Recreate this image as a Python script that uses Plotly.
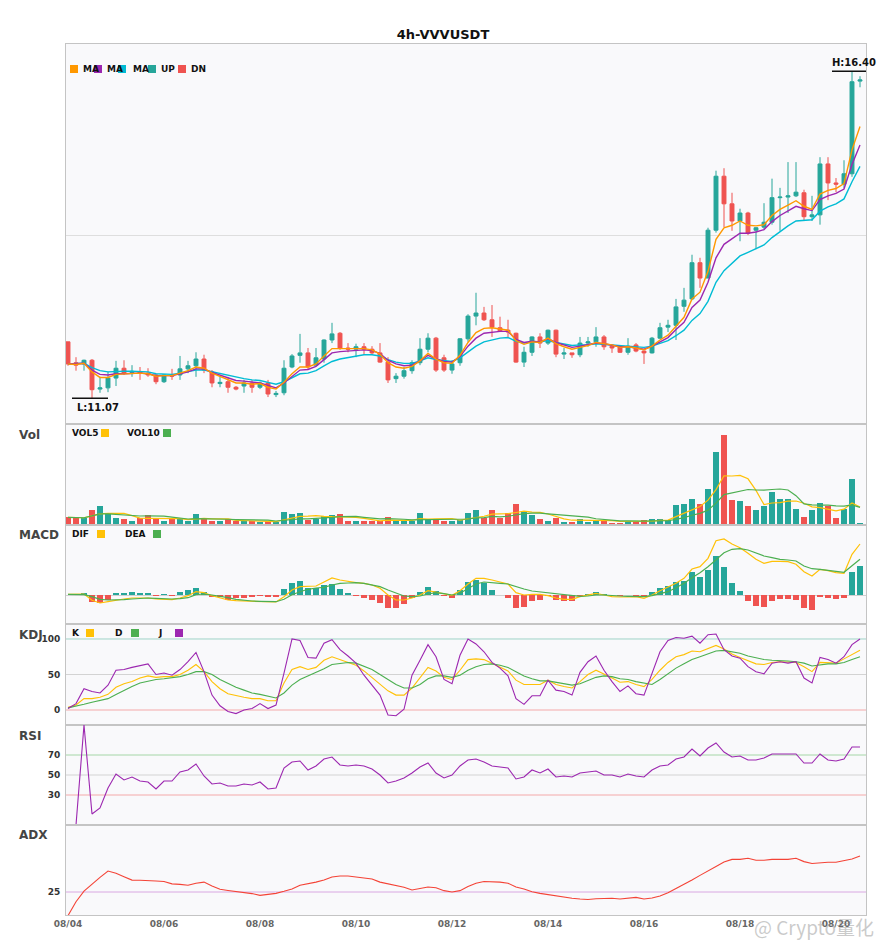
import pandas as pd
import plotly.graph_objects as go
from plotly.subplots import make_subplots

# 4h candles, 2025-08-04 00:00 onwards
times = pd.date_range("2025-08-04 00:00", periods=100, freq="4h")

open_ = [11.99, 11.65, 11.63, 11.69, 11.22, 11.24, 11.40, 11.56, 11.49, 11.50,
         11.48, 11.45, 11.34, 11.45, 11.45, 11.55, 11.60, 11.71, 11.50, 11.31,
         11.34, 11.25, 11.27, 11.32, 11.25, 11.32, 11.13, 11.16, 11.58, 11.77,
         11.81, 11.61, 11.71, 12.02, 12.13, 11.89, 11.87, 11.91, 11.87, 11.81,
         11.66, 11.39, 11.43, 11.52, 11.65, 11.87, 12.05, 11.73, 11.53, 11.65,
         12.04, 12.41, 12.46, 12.35, 12.22, 12.18, 12.13, 11.66, 11.82, 12.07,
         11.97, 12.18, 11.79, 11.81, 11.78, 11.97, 11.99, 12.07, 11.92, 11.91,
         11.82, 11.94, 11.84, 11.81, 12.05, 12.23, 12.26, 12.57, 12.69, 13.28,
         13.03, 13.81, 14.69, 14.24, 13.96, 14.09, 13.81, 13.86, 13.94, 14.34,
         14.35, 14.37, 14.42, 14.03, 14.06, 14.89, 14.58, 14.56, 14.73, 16.24]
high = [11.99, 11.74, 11.70, 11.71, 11.42, 11.50, 11.68, 11.69, 11.61, 11.58,
        11.56, 11.47, 11.46, 11.55, 11.76, 11.68, 11.82, 11.78, 11.53, 11.42,
        11.42, 11.27, 11.37, 11.37, 11.34, 11.37, 11.19, 11.69, 11.79, 12.12,
        11.89, 11.89, 12.03, 12.30, 12.15, 11.97, 11.96, 11.97, 11.92, 11.97,
        11.74, 11.48, 11.58, 11.69, 12.05, 12.13, 12.07, 11.78, 11.69, 12.05,
        12.44, 12.79, 12.56, 12.59, 12.40, 12.35, 12.14, 11.91, 12.08, 12.13,
        12.19, 12.19, 11.89, 11.81, 12.07, 12.07, 12.23, 12.10, 11.93, 11.93,
        12.05, 11.97, 11.85, 12.07, 12.30, 12.35, 12.69, 12.87, 13.41, 13.36,
        13.85, 14.78, 14.82, 14.42, 14.16, 14.11, 13.86, 14.25, 14.65, 14.50,
        14.92, 14.92, 14.47, 14.37, 15.00, 15.00, 14.66, 14.95, 16.40, 16.32]
low = [11.60, 11.52, 11.52, 11.07, 11.16, 11.17, 11.27, 11.45, 11.42, 11.37,
       11.42, 11.30, 11.32, 11.37, 11.37, 11.48, 11.42, 11.48, 11.25, 11.25,
       11.16, 11.20, 11.16, 11.16, 11.22, 11.09, 11.09, 11.12, 11.56, 11.65,
       11.53, 11.61, 11.65, 11.97, 11.86, 11.82, 11.74, 11.78, 11.78, 11.65,
       11.32, 11.32, 11.39, 11.47, 11.61, 11.82, 11.50, 11.50, 11.47, 11.60,
       11.99, 12.26, 12.33, 12.07, 12.15, 12.07, 11.65, 11.58, 11.76, 11.89,
       11.94, 11.74, 11.71, 11.73, 11.74, 11.91, 11.91, 11.86, 11.81, 11.81,
       11.78, 11.82, 11.63, 11.80, 12.04, 12.15, 12.02, 12.48, 12.67, 12.87,
       13.03, 13.77, 13.86, 13.80, 13.63, 13.73, 13.50, 13.83, 13.90, 13.80,
       14.09, 14.35, 13.96, 13.96, 13.90, 14.30, 14.43, 14.50, 14.68, 16.14]
close = [11.63, 11.61, 11.69, 11.21, 11.24, 11.40, 11.56, 11.48, 11.51, 11.48,
         11.45, 11.34, 11.45, 11.43, 11.55, 11.60, 11.71, 11.53, 11.32, 11.33,
         11.25, 11.22, 11.32, 11.25, 11.32, 11.14, 11.15, 11.56, 11.76, 11.81,
         11.58, 11.73, 12.02, 12.12, 11.89, 11.87, 11.91, 11.87, 11.81, 11.66,
         11.37, 11.43, 11.52, 11.65, 11.87, 12.05, 11.53, 11.53, 11.63, 12.04,
         12.41, 12.46, 12.35, 12.23, 12.17, 12.15, 11.66, 11.82, 12.07, 11.97,
         12.18, 11.79, 11.81, 11.78, 11.97, 11.99, 12.07, 11.91, 11.89, 11.82,
         11.92, 11.84, 11.81, 12.05, 12.22, 12.26, 12.56, 12.67, 13.28, 13.03,
         13.81, 14.69, 14.24, 13.96, 14.09, 13.76, 13.85, 13.94, 14.34, 14.35,
         14.37, 14.43, 14.03, 14.06, 14.89, 14.58, 14.56, 14.73, 16.23, 16.26]

ma_fast = [11.63, 11.62, 11.64, 11.50, 11.41, 11.41, 11.46, 11.47, 11.48, 11.48,
           11.47, 11.43, 11.44, 11.44, 11.48, 11.52, 11.58, 11.56, 11.48, 11.43,
           11.37, 11.32, 11.32, 11.30, 11.31, 11.25, 11.22, 11.33, 11.47, 11.58,
           11.58, 11.63, 11.76, 11.88, 11.88, 11.88, 11.89, 11.88, 11.86, 11.79,
           11.65, 11.58, 11.56, 11.59, 11.68, 11.80, 11.71, 11.65, 11.64, 11.77,
           11.98, 12.14, 12.21, 12.22, 12.20, 12.18, 12.01, 11.95, 11.99, 11.98,
           12.05, 11.96, 11.91, 11.87, 11.90, 11.93, 11.98, 11.96, 11.94, 11.90,
           11.91, 11.89, 11.86, 11.92, 12.02, 12.10, 12.25, 12.39, 12.69, 12.80,
           13.14, 13.66, 13.85, 13.89, 13.96, 13.89, 13.88, 13.90, 14.05, 14.15,
           14.22, 14.29, 14.20, 14.15, 14.40, 14.46, 14.49, 14.57, 15.12, 15.50]
ma_mid = [11.63, 11.63, 11.64, 11.53, 11.46, 11.45, 11.47, 11.47, 11.48, 11.48,
          11.47, 11.44, 11.44, 11.44, 11.47, 11.50, 11.55, 11.55, 11.49, 11.45,
          11.40, 11.36, 11.35, 11.33, 11.32, 11.28, 11.24, 11.32, 11.43, 11.53,
          11.54, 11.59, 11.70, 11.81, 11.83, 11.84, 11.86, 11.86, 11.85, 11.80,
          11.69, 11.63, 11.60, 11.61, 11.68, 11.77, 11.71, 11.67, 11.66, 11.75,
          11.92, 12.05, 12.13, 12.15, 12.16, 12.16, 12.03, 11.98, 12.00, 11.99,
          12.04, 11.98, 11.94, 11.90, 11.92, 11.94, 11.97, 11.96, 11.94, 11.91,
          11.91, 11.89, 11.87, 11.92, 11.99, 12.06, 12.19, 12.31, 12.55, 12.67,
          12.96, 13.36, 13.58, 13.67, 13.76, 13.76, 13.78, 13.82, 13.95, 14.05,
          14.13, 14.20, 14.16, 14.13, 14.31, 14.37, 14.41, 14.48, 14.88, 15.20]
ma_slow = [11.63, 11.63, 11.64, 11.57, 11.52, 11.50, 11.51, 11.51, 11.51, 11.50,
           11.50, 11.47, 11.47, 11.46, 11.48, 11.50, 11.53, 11.53, 11.50, 11.47,
           11.44, 11.41, 11.39, 11.37, 11.36, 11.33, 11.30, 11.34, 11.41, 11.47,
           11.48, 11.52, 11.60, 11.67, 11.71, 11.73, 11.76, 11.78, 11.78, 11.76,
           11.70, 11.66, 11.64, 11.64, 11.68, 11.73, 11.70, 11.68, 11.67, 11.73,
           11.83, 11.92, 11.99, 12.02, 12.05, 12.06, 12.00, 11.97, 11.99, 11.99,
           12.01, 11.98, 11.96, 11.93, 11.94, 11.94, 11.96, 11.95, 11.94, 11.93,
           11.92, 11.91, 11.90, 11.92, 11.96, 12.01, 12.09, 12.18, 12.34, 12.45,
           12.65, 12.96, 13.15, 13.27, 13.39, 13.45, 13.51, 13.57, 13.69, 13.79,
           13.88, 13.96, 13.97, 13.98, 14.12, 14.19, 14.24, 14.32, 14.60, 14.85]

volume = [77, 70, 70, 150, 190, 107, 70, 60, 40, 67,
          97, 63, 40, 63, 57, 43, 110, 57, 43, 40,
          57, 37, 37, 37, 27, 40, 27, 130, 110, 120,
          53, 60, 90, 100, 110, 40, 40, 43, 43, 40,
          80, 40, 37, 37, 120, 57, 57, 37, 43, 53,
          120, 150, 73, 150, 73, 120, 210, 140, 100, 60,
          40, 73, 33, 33, 60, 33, 53, 50, 20, 20,
          37, 27, 50, 60, 60, 47, 200, 210, 260, 210,
          360, 730, 900, 250, 240, 190, 150, 190, 330, 260,
          260, 160, 80, 150, 220, 190, 70, 160, 460, 17]
vol5 = [77, 73.5, 72.3, 91.8, 111.4, 117.4, 117.4, 115.4, 93.4, 68.8,
        66.8, 65.4, 61.4, 66, 64, 53.2, 62.6, 66, 62, 58.6,
        61.4, 46.8, 42.8, 41.6, 39, 35.6, 33.6, 52.2, 66.8, 85.4,
        88, 94.6, 86.6, 84.6, 82.6, 80, 76, 66.6, 55.2, 41.2,
        49.2, 49.2, 48, 46.8, 62.8, 58.2, 61.6, 61.6, 62.8, 49.4,
        62, 80.6, 87.8, 109.2, 113.2, 113.2, 125.2, 138.6, 128.6, 126,
        110, 82.6, 61.2, 47.8, 47.8, 46.4, 42.4, 45.8, 43.2, 35.2,
        36, 30.8, 30.8, 38.8, 46.8, 48.8, 83.4, 115.4, 155.4, 185.4,
        248, 354, 492, 490, 496, 462, 346, 204, 220, 224,
        238, 240, 218, 182, 174, 160, 142, 158, 220, 179.4]
vol10 = [77, 73.5, 72.3, 91.8, 111.4, 110.7, 104.9, 99.3, 92.7, 90.1,
         92.1, 91.4, 88.4, 79.7, 66.4, 60, 64, 63.7, 64, 61.3,
         57.3, 54.7, 54.4, 51.8, 48.8, 48.5, 40.2, 47.5, 54.2, 62.2,
         61.8, 64.1, 69.4, 75.7, 84, 84, 85.3, 76.6, 69.9, 61.9,
         64.6, 62.6, 57.3, 51, 52, 53.7, 55.4, 54.8, 54.8, 56.1,
         60.1, 71.1, 74.7, 86, 81.3, 87.6, 102.9, 113.2, 118.9, 119.6,
         111.6, 103.9, 99.9, 88.2, 86.9, 78.2, 62.5, 53.5, 45.5, 41.5,
         41.2, 36.6, 38.3, 41, 41, 42.4, 57.1, 73.1, 97.1, 116.1,
         148.4, 218.7, 303.7, 322.7, 340.7, 355, 350, 348, 355, 360,
         350, 293, 211, 201, 199, 199, 191, 188, 201, 176.7]

dif = [0.007, 0.007, 0.01, -0.053, -0.08, -0.067, -0.05, -0.04, -0.03, -0.027,
       -0.03, -0.04, -0.047, -0.047, -0.03, -0.007, 0.033, 0.023, -0.007, -0.027,
       -0.05, -0.057, -0.06, -0.06, -0.06, -0.067, -0.07, -0.017, 0.05, 0.083,
       0.09, 0.09, 0.13, 0.17, 0.15, 0.133, 0.123, 0.117, 0.10, 0.067,
       0.0, -0.05, -0.05, -0.03, 0.0, 0.043, 0.03, 0.013, -0.003, 0.043,
       0.11, 0.167, 0.167, 0.15, 0.133, 0.11, 0.023, 0.0, 0.007, 0.007,
       -0.007, -0.03, -0.043, -0.043, -0.017, 0.003, 0.017, 0.0, -0.017, -0.02,
       -0.017, -0.017, -0.033, 0.0, 0.043, 0.083, 0.117, 0.167, 0.26, 0.283,
       0.367, 0.543, 0.56, 0.51, 0.473, 0.417, 0.357, 0.317, 0.337, 0.337,
       0.333, 0.307, 0.233, 0.19, 0.257, 0.243, 0.223, 0.217, 0.407, 0.51]
dea = [0.007, 0.007, 0.003, -0.017, -0.043, -0.05, -0.05, -0.047, -0.04, -0.033,
       -0.03, -0.033, -0.037, -0.04, -0.037, -0.027, 0.003, 0.01, 0.0, -0.01,
       -0.027, -0.043, -0.053, -0.06, -0.063, -0.067, -0.067, -0.043, 0.003, 0.033,
       0.057, 0.07, 0.077, 0.10, 0.117, 0.12, 0.123, 0.117, 0.103, 0.083,
       0.05, 0.017, -0.01, -0.017, -0.01, 0.01, 0.023, 0.013, 0.0, 0.017,
       0.067, 0.11, 0.13, 0.127, 0.117, 0.11, 0.083, 0.06, 0.04, 0.03,
       0.027, 0.017, 0.0, -0.01, -0.013, -0.01, 0.0, 0.0, -0.007, -0.01,
       -0.013, -0.013, -0.017, -0.007, 0.01, 0.033, 0.073, 0.117, 0.173, 0.223,
       0.283, 0.357, 0.423, 0.457, 0.463, 0.45, 0.417, 0.39, 0.373, 0.357,
       0.35, 0.34, 0.29, 0.263, 0.257, 0.247, 0.237, 0.227, 0.293, 0.357]
macd_hist = [0.0, 0.0, 0.013, -0.067, -0.08, -0.05, 0.013, 0.02, 0.03, 0.02,
             0.013, -0.007, 0.003, -0.003, 0.03, 0.05, 0.07, 0.03, -0.017, -0.023,
             -0.047, -0.027, -0.027, -0.017, -0.003, -0.017, -0.017, 0.06, 0.12, 0.14,
             0.073, 0.073, 0.103, 0.11, 0.06, 0.013, -0.007, -0.027, -0.047, -0.077,
             -0.127, -0.127, -0.087, -0.027, 0.03, 0.08, 0.04, -0.007, -0.027, 0.05,
             0.13, 0.15, 0.12, 0.05, 0.0, -0.027, -0.127, -0.117, -0.057, -0.047,
             -0.003, -0.047, -0.057, -0.057, -0.007, 0.01, 0.03, 0.01, 0.0, -0.007,
             0.0, -0.007, -0.007, 0.03, 0.07, 0.09, 0.13, 0.14, 0.23, 0.183,
             0.25, 0.39, 0.28, 0.12, 0.04, -0.057, -0.107, -0.117, -0.057, -0.037,
             -0.037, -0.047, -0.127, -0.147, -0.017, -0.027, -0.037, -0.027, 0.23, 0.29]

k_line = [4, 7, 16, 16, 18, 22, 32, 37, 40, 45,
          48, 46, 47, 47, 50, 56, 64, 54, 40, 30,
          23, 20, 18, 16, 16, 13, 13, 38, 57, 61,
          57, 60, 70, 75, 71, 68, 63, 55, 46, 37,
          27, 21, 21, 31, 45, 60, 55, 46, 43, 56,
          71, 72, 71, 66, 60, 55, 42, 36, 36, 36,
          42, 36, 33, 31, 40, 50, 56, 51, 45, 39,
          40, 36, 33, 43, 56, 67, 75, 78, 83, 82,
          87, 91, 86, 79, 74, 69, 65, 64, 67, 68,
          68, 67, 61, 54, 67, 67, 66, 72, 78, 84]
d_line = [3, 5, 8, 11, 13, 16, 22, 28, 33, 38,
          41, 43, 44, 45, 47, 50, 54, 54, 50, 43,
          37, 32, 28, 24, 22, 19, 17, 24, 35, 43,
          48, 52, 58, 64, 66, 67, 66, 62, 57, 50,
          43, 36, 31, 31, 36, 44, 48, 48, 46, 49,
          56, 61, 64, 65, 63, 60, 54, 48, 44, 41,
          41, 39, 37, 35, 37, 41, 46, 48, 47, 44,
          43, 40, 38, 36, 43, 51, 59, 65, 71, 75,
          79, 83, 84, 82, 80, 76, 73, 71, 70, 70,
          69, 68, 66, 62, 64, 65, 65, 67, 71, 75]
j_line = [2, 9, 30, 26, 24, 35, 56, 57, 60, 63,
          65, 50, 52, 49, 57, 68, 81, 54, 21, 6,
          -2, -5, 0, 2, 9, 2, 7, 52, 100, 98,
          74, 73, 94, 99, 85, 76, 66, 49, 35, 21,
          -7, -8, 1, 49, 70, 92, 75, 43, 37, 77,
          100, 93, 82, 67, 59, 48, 16, 8, 20, 20,
          42, 28, 26, 21, 53, 68, 76, 56, 40, 26,
          34, 23, 21, 52, 82, 98, 102, 101, 104, 94,
          106, 107, 85, 76, 73, 61, 54, 51, 66, 68,
          66, 68, 45, 38, 74, 71, 66, 75, 92, 100]

rsi = [None, 0, 100, 11, 17, 37, 51, 45, 48, 44,
       43, 36, 44, 44, 53, 55, 61, 49, 41, 42,
       39, 39, 41, 40, 43, 36, 37, 57, 63, 64,
       55, 59, 66, 68, 60, 59, 60, 59, 56, 50,
       42, 44, 47, 52, 58, 62, 52, 47, 50, 59,
       65, 66, 63, 59, 58, 57, 46, 48, 55, 52,
       56, 48, 49, 48, 52, 53, 54, 50, 50, 48,
       51, 49, 48, 55, 59, 60, 66, 68, 76, 69,
       77, 82, 73, 68, 69, 65, 65, 67, 71, 71,
       71, 71, 62, 62, 71, 65, 64, 66, 78, 78]

adx = [14.5, 20.7, 25.4, 28.6, 31.5, 34.3, 33.3, 31.8, 30.3, 30.2,
       29.9, 29.9, 29.7, 28.6, 28.4, 28.0, 28.9, 29.4, 27.7, 26.2,
       25.7, 25.3, 24.9, 24.3, 23.5, 24.0, 24.4, 25.3, 26.3, 28.0,
       28.6, 29.4, 30.3, 31.7, 32.1, 32.1, 31.7, 31.2, 30.8, 29.4,
       28.6, 28.0, 27.1, 25.9, 26.6, 27.2, 26.9, 25.6, 25.0, 25.6,
       27.4, 28.9, 29.7, 29.7, 29.4, 28.9, 27.2, 26.3, 25.1, 24.4,
       23.8, 23.2, 22.6, 22.2, 21.9, 21.7, 22.0, 22.2, 22.2, 21.9,
       22.2, 22.6, 21.9, 22.3, 23.2, 24.7, 26.6, 28.4, 30.3, 32.4,
       34.2, 36.3, 38.3, 39.5, 39.5, 40.0, 39.1, 39.1, 39.5, 39.5,
       39.5, 40.0, 38.5, 37.7, 38.0, 38.2, 38.2, 38.8, 39.7, 41.0]

UP = "#26a69a"
DN = "#ef5350"
YEL = "#ffc107"
GRN = "#4caf50"
PUR = "#9c27b0"
FONT = "DejaVu Sans"

# the page body has an 8px margin; keep the whole figure inside the window
PAGE_OFF = 8
FIG_W = 885 - 2 * PAGE_OFF
FIG_H = 950 - 2 * PAGE_OFF

hour = pd.Timedelta(hours=1)
bar_w = 3 * 3600 * 1000
vol_colors = [UP if c >= o else DN for o, c in zip(open_, close)]
hist_colors = [UP if h >= 0 else DN for h in macd_hist]

fig = make_subplots(rows=6, cols=1, shared_xaxes=True, vertical_spacing=0,
                    row_heights=[380, 101, 99, 101, 100, 90])

fig.add_trace(go.Candlestick(x=times, open=open_, high=high, low=low, close=close,
                             increasing=dict(line=dict(color=UP, width=1), fillcolor=UP),
                             decreasing=dict(line=dict(color=DN, width=1), fillcolor=DN),
                             whiskerwidth=0, name="K"), row=1, col=1)
for ys, col in [(ma_slow, "#00bcd4"), (ma_mid, PUR), (ma_fast, "#ff9800")]:
    fig.add_trace(go.Scatter(x=times, y=ys, mode="lines",
                             line=dict(color=col, width=1.4)), row=1, col=1)

fig.add_trace(go.Bar(x=times, y=volume, width=bar_w, marker=dict(color=vol_colors, line_width=0)),
              row=2, col=1)
fig.add_trace(go.Scatter(x=times, y=vol5, mode="lines", line=dict(color=YEL, width=1.2)), row=2, col=1)
fig.add_trace(go.Scatter(x=times, y=vol10, mode="lines", line=dict(color=GRN, width=1.2)), row=2, col=1)

fig.add_trace(go.Bar(x=times, y=macd_hist, width=bar_w, marker=dict(color=hist_colors, line_width=0)),
              row=3, col=1)
fig.add_trace(go.Scatter(x=times, y=dif, mode="lines", line=dict(color=YEL, width=1.2)), row=3, col=1)
fig.add_trace(go.Scatter(x=times, y=dea, mode="lines", line=dict(color=GRN, width=1.2)), row=3, col=1)

fig.add_trace(go.Scatter(x=times, y=k_line, mode="lines", line=dict(color=YEL, width=1.1)), row=4, col=1)
fig.add_trace(go.Scatter(x=times, y=d_line, mode="lines", line=dict(color=GRN, width=1.1)), row=4, col=1)
fig.add_trace(go.Scatter(x=times, y=j_line, mode="lines", line=dict(color=PUR, width=1.1)), row=4, col=1)

fig.add_trace(go.Scatter(x=times, y=rsi, mode="lines", line=dict(color=PUR, width=1.1)), row=5, col=1)

fig.add_trace(go.Scatter(x=times, y=adx, mode="lines", line=dict(color="#f44336", width=1.1)), row=6, col=1)

x_range = [times[0] - hour, times[-1] + 3 * hour]
fig.update_xaxes(range=x_range, showline=True, mirror=True, linecolor="#c4c4c4", linewidth=1,
                 showgrid=False, zeroline=False, rangeslider_visible=False)
fig.update_xaxes(row=6, col=1, tickformat="%m/%d", dtick=2 * 86400000, tick0="2025-08-04",
                 ticks="", tickfont=dict(family=FONT, size=9, color="#666", weight="bold"))

fig.update_yaxes(showline=True, mirror=True, linecolor="#c4c4c4", linewidth=1,
                 showgrid=False, zeroline=False, showticklabels=False)
fig.update_yaxes(row=1, col=1, range=[10.651, 16.845], tickvals=[13.73], showgrid=True,
                 gridcolor="#dedede")
fig.update_yaxes(row=2, col=1, range=[0, 1010])
fig.update_yaxes(row=3, col=1, range=[-0.29, 0.70], zeroline=True, zerolinecolor="#d0d0d0",
                 zerolinewidth=1)
tick_style = dict(showticklabels=True, ticks="outside", ticklen=3, tickcolor="rgba(0,0,0,0)",
                  tickfont=dict(family=FONT, size=9, color="#333", weight="bold"))
fig.update_yaxes(row=4, col=1, range=[-21.1, 121.1], tickvals=[0, 50, 100], **tick_style)
fig.update_yaxes(row=5, col=1, range=[0, 100], tickvals=[30, 50, 70], **tick_style)
fig.update_yaxes(row=6, col=1, range=[14.78, 54.78], tickvals=[25], **tick_style)

# reference levels
levels = [("y4", 100, "#9fd3c7"), ("y4", 50, "#d3d3d3"), ("y4", 0, "#f4a9a9"),
          ("y5", 70, "#a5d6a7"), ("y5", 50, "#d3d3d3"), ("y5", 30, "#f4a9a9"),
          ("y6", 25, "#d9a8e2")]
for yref, val, col in levels:
    fig.add_shape(type="line", xref="paper", x0=0, x1=1, yref=yref, y0=val, y1=val,
                  line=dict(color=col, width=1), layer="below")


# page pixel -> paper position (plot area spans page x 66..866, y 44..915)
def px_x(px):
    return (px - 66) / 800


def px_y(py):
    return (915 - py) / 871


def legend_item(text, tx, sx, cy, color):
    fig.add_annotation(text=text, xref="paper", yref="paper", x=px_x(tx), y=px_y(cy),
                       xanchor="left", yanchor="middle", showarrow=False,
                       font=dict(family=FONT, size=9, color="#111", weight="bold"))
    fig.add_shape(type="rect", xref="paper", yref="paper", x0=px_x(sx), x1=px_x(sx + 8),
                  y0=px_y(cy + 4), y1=px_y(cy - 4), fillcolor=color, line_width=0)


legend_item("MA", 81, 70, 69, "#ff9800")
legend_item("MA", 105, 94, 69, PUR)
legend_item("MA", 131, 118, 69, "#00bcd4")
legend_item("UP", 159, 148, 69, UP)
legend_item("DN", 189, 178, 69, DN)

legend_item("VOL5", 70, 101, 433, YEL)
legend_item("VOL10", 125, 163, 433, GRN)
legend_item("DIF", 70, 97, 534, YEL)
legend_item("DEA", 123, 153, 534, GRN)
legend_item("K", 70, 86, 633, YEL)
legend_item("D", 113, 131, 633, GRN)
legend_item("J", 156, 175, 633, PUR)

for name, cy in [("Vol", 435), ("MACD", 535), ("KDJ", 635), ("RSI", 736), ("ADX", 835)]:
    fig.add_annotation(text=name, xref="paper", yref="paper", x=px_x(17), y=px_y(cy),
                       xanchor="left", yanchor="middle", showarrow=False,
                       font=dict(family=FONT, size=12, color="#444", weight="bold"))

# highest / lowest marks
hi_i = high.index(max(high))
lo_i = low.index(min(low))
fig.add_shape(type="line", xref="x", yref="y", x0=times[hi_i] - 10 * hour, x1=times[hi_i] + 8 * hour,
              y0=max(high), y1=max(high), line=dict(color="#111", width=1.5))
fig.add_annotation(text="H:%.2f" % max(high), xref="x", yref="y", x=times[hi_i] + 1 * hour,
                   y=max(high), yanchor="bottom", yshift=1, showarrow=False,
                   font=dict(family=FONT, size=10, color="#111", weight="bold"))
fig.add_shape(type="line", xref="x", yref="y", x0=times[lo_i] - 10 * hour, x1=times[lo_i] + 8 * hour,
              y0=min(low), y1=min(low), line=dict(color="#111", width=1.5))
fig.add_annotation(text="L:%.2f" % min(low), xref="x", yref="y", x=times[lo_i] + 3 * hour,
                   y=min(low), yanchor="top", yshift=-2, showarrow=False,
                   font=dict(family=FONT, size=10, color="#111", weight="bold"))

fig.add_annotation(text="@ Crypto量化", xref="paper", yref="paper", x=px_x(876), y=px_y(926),
                   xanchor="right", yanchor="middle", showarrow=False,
                   font=dict(family="Noto Sans CJK SC", size=19, color="rgba(150,150,150,0.5)"))

fig.update_layout(
    width=FIG_W, height=FIG_H,
    title=dict(text="<b>4h-VVVUSDT</b>", x=(443 - PAGE_OFF) / FIG_W, xanchor="center",
               y=1 - (34 - PAGE_OFF) / FIG_H, yanchor="middle",
               font=dict(family=FONT, size=13, color="#111")),
    margin=dict(l=66 - PAGE_OFF, r=(885 - PAGE_OFF) - 866, t=44 - PAGE_OFF,
                b=(950 - PAGE_OFF) - 915),
    paper_bgcolor="white", plot_bgcolor="#f9f9fb",
    showlegend=False, bargap=0,
    font=dict(family=FONT),
)

fig.write_html("out.html")
